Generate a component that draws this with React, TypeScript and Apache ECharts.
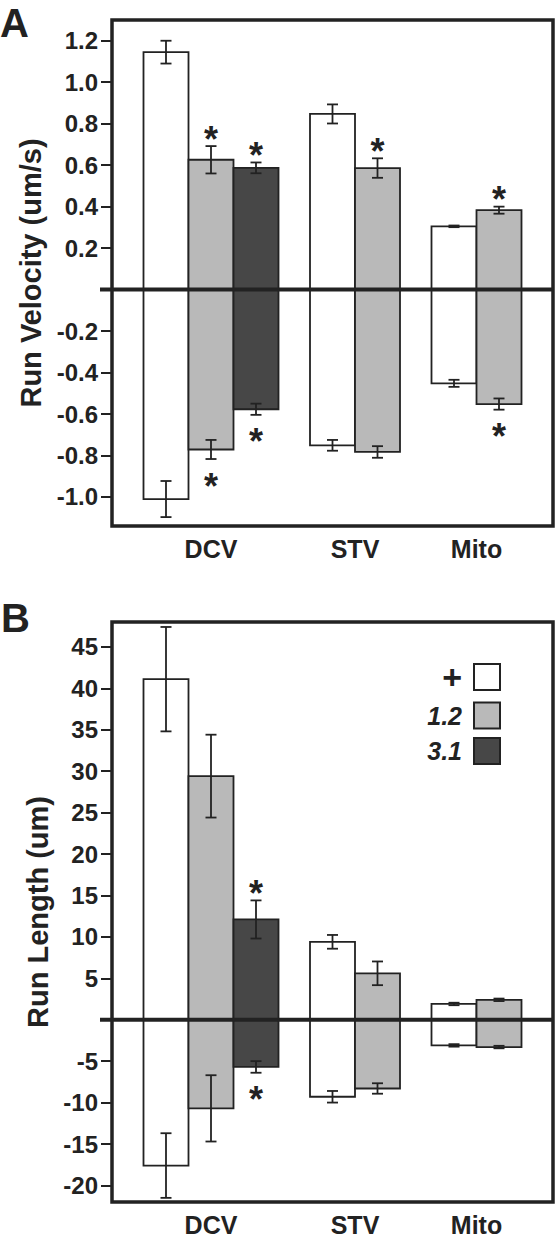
import React, { useEffect, useRef } from "react";
import * as echarts from "echarts";

// ---------- data ----------
const categories = ["DCV", "STV", "Mito"];
const conditions = ["+", "1.2", "3.1"];

// Panel A: run velocity (um/s); positive = anterograde, negative = retrograde
const velPosPlus = [1.145, 0.847, 0.305];
const velPos12 = [0.626, 0.586, 0.383];
const velPos31 = [0.587, null, null];
const velPosErrPlus = [0.055, 0.046, 0.004];
const velPosErr12 = [0.066, 0.047, 0.017];
const velPosErr31 = [0.026, null, null];
const velNegPlus = [-1.01, -0.751, -0.452];
const velNeg12 = [-0.771, -0.783, -0.552];
const velNeg31 = [-0.577, null, null];
const velNegErrPlus = [0.087, 0.026, 0.017];
const velNegErr12 = [0.046, 0.028, 0.027];
const velNegErr31 = [0.027, null, null];
const velSigPosPlus = [0, 0, 0];
const velSigPos12 = [1, 1, 1];
const velSigPos31 = [1, 0, 0];
const velSigNegPlus = [0, 0, 0];
const velSigNeg12 = [1, 0, 1];
const velSigNeg31 = [1, 0, 0];
const velTicks = [-1.0, -0.8, -0.6, -0.4, -0.2, 0.2, 0.4, 0.6, 0.8, 1.0, 1.2];

// Panel B: run length (um)
const lenPosPlus = [41.1, 9.4, 1.9];
const lenPos12 = [29.4, 5.6, 2.4];
const lenPos31 = [12.1, null, null];
const lenPosErrPlus = [6.3, 0.83, 0.15];
const lenPosErr12 = [5.0, 1.43, 0.15];
const lenPosErr31 = [2.3, null, null];
const lenNegPlus = [-17.6, -9.3, -3.1];
const lenNeg12 = [-10.7, -8.3, -3.3];
const lenNeg31 = [-5.7, null, null];
const lenNegErrPlus = [3.9, 0.7, 0.15];
const lenNegErr12 = [4.0, 0.63, 0.15];
const lenNegErr31 = [0.7, null, null];
const lenSigPosPlus = [0, 0, 0];
const lenSigPos12 = [0, 0, 0];
const lenSigPos31 = [1, 0, 0];
const lenSigNegPlus = [0, 0, 0];
const lenSigNeg12 = [0, 0, 0];
const lenSigNeg31 = [1, 0, 0];
const lenTicks = [-20, -15, -10, -5, 5, 10, 15, 20, 25, 30, 35, 40, 45];

// ---------- style / layout ----------
const FONT = "'Liberation Sans', Arial, Helvetica, sans-serif";
const INK = "#222222";
const FILLS = ["#ffffff", "#b9b9b9", "#474747"];
const GAP = 0.7; // gap between groups, in bar widths

const velPos = [velPosPlus, velPos12, velPos31];
const velPosErr = [velPosErrPlus, velPosErr12, velPosErr31];
const velNeg = [velNegPlus, velNeg12, velNeg31];
const velNegErr = [velNegErrPlus, velNegErr12, velNegErr31];
const velSigPos = [velSigPosPlus, velSigPos12, velSigPos31];
const velSigNeg = [velSigNegPlus, velSigNeg12, velSigNeg31];
const lenPos = [lenPosPlus, lenPos12, lenPos31];
const lenPosErr = [lenPosErrPlus, lenPosErr12, lenPosErr31];
const lenNeg = [lenNegPlus, lenNeg12, lenNeg31];
const lenNegErr = [lenNegErrPlus, lenNegErr12, lenNegErr31];
const lenSigPos = [lenSigPosPlus, lenSigPos12, lenSigPos31];
const lenSigNeg = [lenSigNegPlus, lenSigNeg12, lenSigNeg31];

// group layout derived from how many conditions each category has
const counts = categories.map((_, c) => velPos.filter((arr) => arr[c] != null).length);
const groupStart: number[] = [];
let acc = GAP;
counts.forEach((n) => {
  groupStart.push(acc);
  acc += n + GAP;
});
const X_MAX = acc;
const groupCenter = categories.map((_, c) => groupStart[c] + counts[c] / 2);

function buildSeries(
  panel: number,
  pos: (number | null)[][],
  posErr: (number | null)[][],
  neg: (number | null)[][],
  negErr: (number | null)[][],
  sigPos: number[][],
  sigNeg: number[][]
) {
  const series: any[] = [];
  conditions.forEach((name, k) => {
    const data: number[][] = [];
    categories.forEach((_, c) => {
      if (pos[k][c] == null) return;
      data.push([
        c,
        pos[k][c] as number,
        posErr[k][c] as number,
        neg[k][c] as number,
        negErr[k][c] as number,
        sigPos[k][c],
        sigNeg[k][c],
      ]);
    });
    series.push({
      type: "custom",
      name,
      xAxisIndex: panel,
      yAxisIndex: panel,
      itemStyle: { color: FILLS[k] },
      z: 2,
      data,
      renderItem: (params: any, api: any) => {
        const c = api.value(0);
        const p = api.value(1);
        const pe = api.value(2);
        const n = api.value(3);
        const ne = api.value(4);
        const sp = api.value(5);
        const sn = api.value(6);
        const x0 = groupStart[c] + k;
        const xl = api.coord([x0, 0])[0];
        const xr = api.coord([x0 + 1, 0])[0];
        const xc = (xl + xr) / 2;
        const y0 = api.coord([x0, 0])[1];
        const yp = api.coord([x0, p])[1];
        const yn = api.coord([x0, n])[1];
        const barStyle = { fill: FILLS[k], stroke: INK, lineWidth: 1.8 };
        const lineStyle = { stroke: INK, lineWidth: 1.8 };
        const cap = 5.5;
        const children: any[] = [
          { type: "rect", shape: { x: xl, y: yp, width: xr - xl, height: y0 - yp }, style: barStyle },
          { type: "rect", shape: { x: xl, y: y0, width: xr - xl, height: yn - y0 }, style: barStyle },
        ];
        const addErr = (v: number, e: number) => {
          const yt = api.coord([x0, v + e])[1];
          const yb = api.coord([x0, v - e])[1];
          children.push(
            { type: "line", shape: { x1: xc, y1: yt, x2: xc, y2: yb }, style: lineStyle },
            { type: "line", shape: { x1: xc - cap, y1: yt, x2: xc + cap, y2: yt }, style: lineStyle },
            { type: "line", shape: { x1: xc - cap, y1: yb, x2: xc + cap, y2: yb }, style: lineStyle }
          );
          return [yt, yb];
        };
        const [ypt] = addErr(p, pe);
        const [, ynb] = addErr(n, ne);
        const starFont = `bold 36px ${FONT}`;
        if (sp) {
          children.push({
            type: "text",
            style: { text: "*", x: xc, y: ypt - 7, fill: INK, font: starFont, align: "center", verticalAlign: "middle" },
          });
        }
        if (sn) {
          children.push({
            type: "text",
            style: { text: "*", x: xc, y: ynb + 27, fill: INK, font: starFont, align: "center", verticalAlign: "middle" },
          });
        }
        return { type: "group", children };
      },
    });
  });
  // zero line crossing the panel, extending out like a tick
  series.push({
    type: "custom",
    name: "zero" + panel,
    xAxisIndex: panel,
    yAxisIndex: panel,
    z: 5,
    clip: false,
    silent: true,
    data: [[0, 0]],
    renderItem: (params: any, api: any) => {
      const a = api.coord([0, 0]);
      const b = api.coord([X_MAX, 0]);
      return {
        type: "line",
        shape: { x1: a[0] - 12, y1: a[1], x2: b[0], y2: b[1] },
        style: { stroke: INK, lineWidth: 4 },
      };
    },
  });
  return series;
}

function xAxis(panel: number) {
  return {
    type: "value",
    gridIndex: panel,
    min: 0,
    max: X_MAX,
    splitLine: { show: false },
    axisLine: { show: false },
    axisTick: { show: false },
    axisLabel: {
      customValues: groupCenter,
      formatter: (v: number) => {
        let best = 0;
        groupCenter.forEach((g, i) => {
          if (Math.abs(g - v) < Math.abs(groupCenter[best] - v)) best = i;
        });
        return categories[best];
      },
      fontSize: 25,
      fontWeight: "bold",
      fontFamily: FONT,
      color: INK,
      margin: 10,
    },
  };
}

function yAxis(panel: number, min: number, max: number, ticks: number[], name: string, fmt: (v: number) => string) {
  return {
    type: "value",
    gridIndex: panel,
    min,
    max,
    name,
    nameLocation: "middle",
    nameRotate: 90,
    nameGap: 58,
    nameTextStyle: { fontSize: 29, fontWeight: "bold", fontFamily: FONT, color: INK },
    splitLine: { show: false },
    axisLine: { show: false },
    axisTick: {
      show: true,
      length: 11,
      customValues: ticks,
      lineStyle: { color: INK, width: 2 },
    },
    axisLabel: {
      customValues: ticks,
      formatter: fmt,
      fontSize: 24,
      fontWeight: "bold",
      fontFamily: FONT,
      color: INK,
      margin: 14,
    },
  };
}

export default function App() {
  const ref = useRef<HTMLDivElement>(null);
  useEffect(() => {
    if (!ref.current) return;
    const chart = echarts.init(ref.current, undefined, { renderer: "svg" });
    const gridStyle = { show: true, borderColor: INK, borderWidth: 3.5, backgroundColor: "transparent" };
    chart.setOption({
      animation: false,
      backgroundColor: "#ffffff",
      textStyle: { fontFamily: FONT },
      grid: [
        { left: 112, top: 20, width: 441, height: 506, ...gridStyle },
        { left: 112, top: 622, width: 441, height: 583, ...gridStyle },
      ],
      xAxis: [xAxis(0), xAxis(1)],
      yAxis: [
        yAxis(0, -1.14, 1.3, velTicks, "Run Velocity (um/s)", (v) => v.toFixed(1)),
        yAxis(1, -22, 48, lenTicks, "Run Length (um)", (v) => String(Math.round(v))),
      ],
      legend: {
        orient: "vertical",
        right: 49,
        top: 655,
        align: "right",
        icon: "rect",
        itemWidth: 26,
        itemHeight: 26,
        itemGap: 7.5,
        selectedMode: false,
        itemStyle: { borderColor: INK, borderWidth: 2 },
        data: conditions.map((c, k) => ({ name: c, itemStyle: { color: FILLS[k], borderColor: INK, borderWidth: 2 } })),
        formatter: (name: string) => (name === "+" ? `{p|+}` : `{i|${name}}`),
        textStyle: {
          color: INK,
          fontFamily: FONT,
          rich: {
            p: { fontSize: 34, fontWeight: "bold", color: INK, fontFamily: FONT, padding: [0, 7, 0, 0] },
            i: { fontSize: 25, fontWeight: "bold", fontStyle: "italic", color: INK, fontFamily: FONT, padding: [0, 7, 0, 0] },
          },
        },
      },
      graphic: [
        { type: "text", left: 0, top: 3, style: { text: "A", font: `bold 40px ${FONT}`, fill: INK } },
        { type: "text", left: 1, top: 598, style: { text: "B", font: `bold 40px ${FONT}`, fill: INK } },
      ],
      series: [
        ...buildSeries(0, velPos, velPosErr, velNeg, velNegErr, velSigPos, velSigNeg),
        ...buildSeries(1, lenPos, lenPosErr, lenNeg, lenNegErr, lenSigPos, lenSigNeg),
      ],
    });
    return () => chart.dispose();
  }, []);
  return (
    <div
      ref={ref}
      style={{ position: "absolute", left: 0, top: 0, width: 555, height: 1237, background: "#fff" }}
    />
  );
}
